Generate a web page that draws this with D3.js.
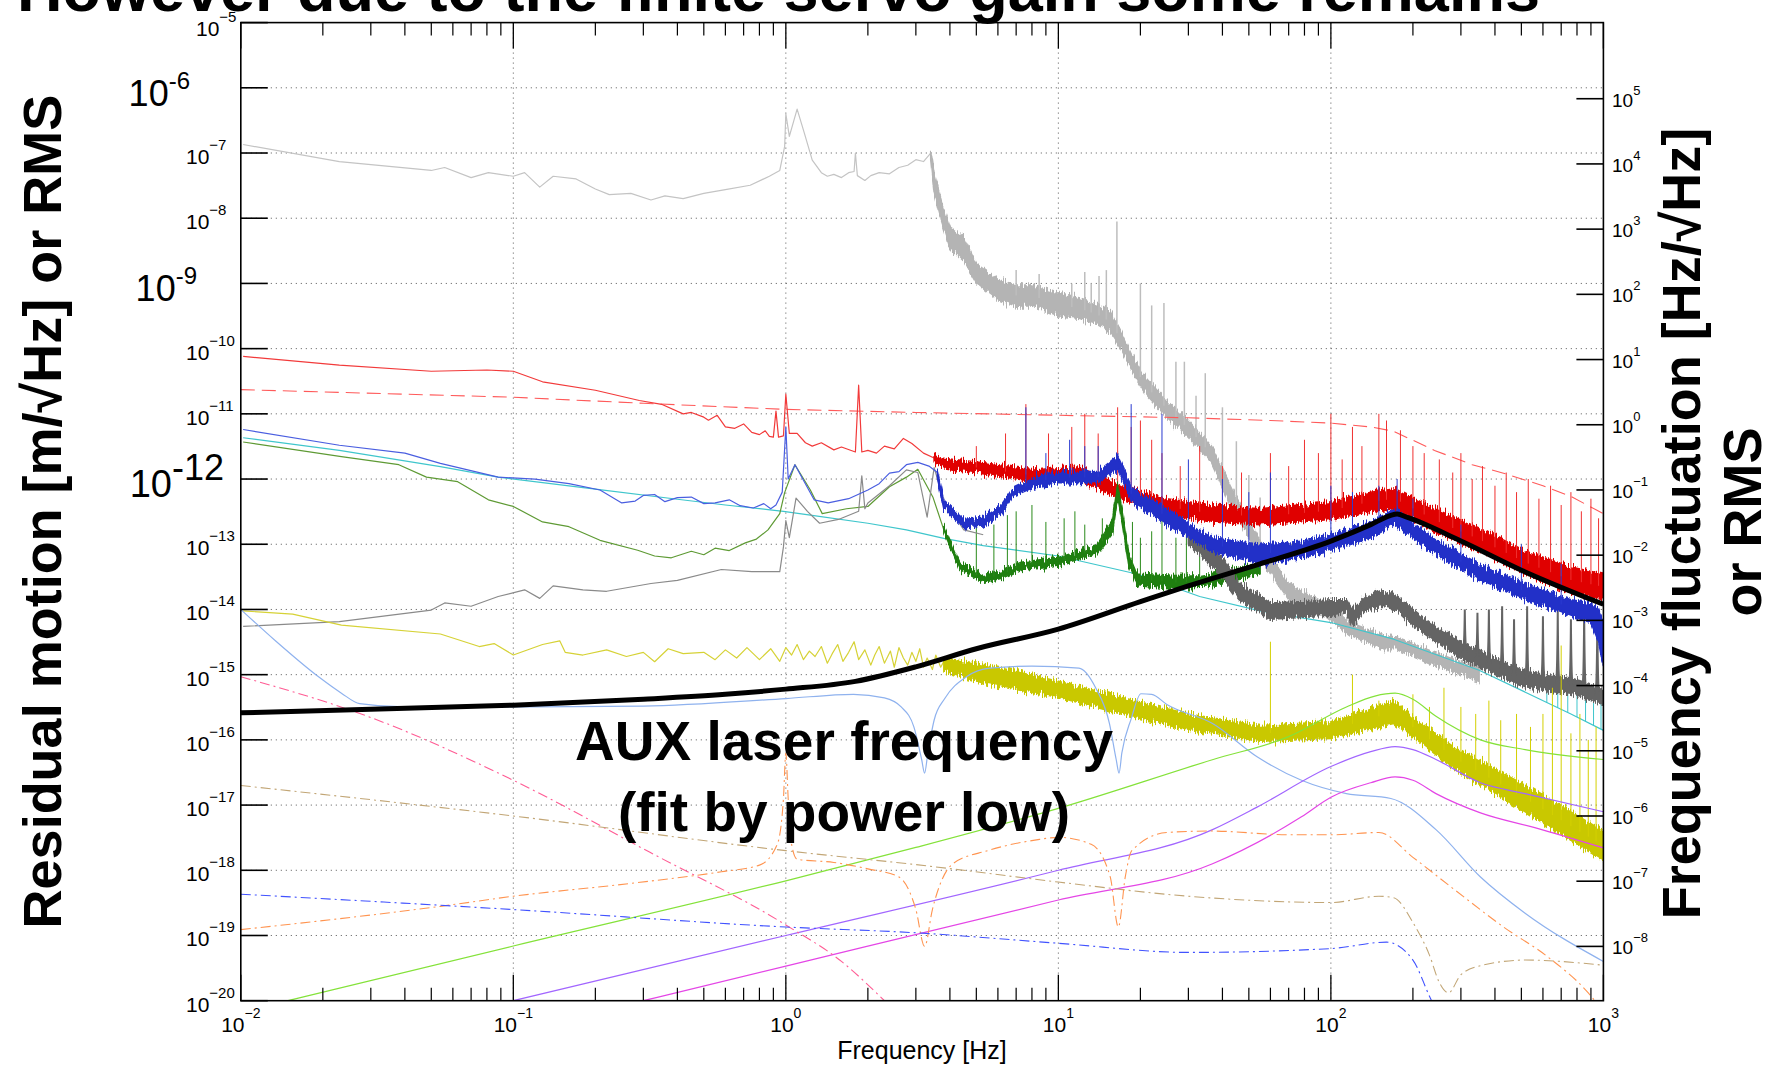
<!DOCTYPE html>
<html>
<head>
<meta charset="utf-8">
<script src="https://cdn.jsdelivr.net/npm/d3@7"></script>
<style>
  html, body { margin: 0; padding: 0; background: #fff; overflow: hidden; }
  svg { display: block; }
  text { font-family: "Liberation Sans", Arial, Helvetica, sans-serif; fill: #000; }
</style>
</head>
<body>
<svg id="chart" width="1773" height="1066"></svg>
<script>
// ---------------------------------------------------------------------------
// Residual motion spectra [m/rtHz] vs frequency [Hz]
// Thin traces: [frequency, amplitude]; noisy traces: [frequency, low, high]
// ---------------------------------------------------------------------------

// ground / seismic motion (light gray)
const lightGrayLine = [[0.0102,1.35e-7],[0.023,7.4e-8],[0.05,5.4e-8],[0.056,6.0e-8],[0.07,4.2e-8],[0.081,5.0e-8],[0.1,4.4e-8],[0.11,5.0e-8],[0.125,3.0e-8],[0.14,4.4e-8],[0.17,4.0e-8],[0.2,2.8e-8],[0.225,2.3e-8],[0.27,2.4e-8],[0.32,1.9e-8],[0.36,2.2e-8],[0.42,2.0e-8],[0.5,2.4e-8],[0.6,2.75e-8],[0.74,3.2e-8],[0.87,4.4e-8],[0.95,5.4e-8],[0.99,1.26e-7],[1.0,4.0e-7],[1.03,1.8e-7],[1.1,4.7e-7],[1.17,2.0e-7],[1.25,7.8e-8],[1.35,5.0e-8],[1.42,4.4e-8],[1.5,4.7e-8],[1.6,4.2e-8],[1.7,5.0e-8],[1.78,5.2e-8],[1.8,1.0e-7],[1.83,4.5e-8],[1.95,3.8e-8],[2.05,4.5e-8],[2.2,5.0e-8],[2.4,4.8e-8],[2.6,6.0e-8],[2.8,6.5e-8],[3.0,7.9e-8],[3.2,7.4e-8],[3.4,1.0e-7]];
const lightGrayBand = [[3.4,7.9e-8,1.12e-7],[3.5,2.5e-8,5.0e-8],[3.7,1.0e-8,2.0e-8],[4.0,3.5e-9,7.1e-9],[4.5,2.2e-9,5.0e-9],[5.0,1.0e-9,2.0e-9],[6.0,5.6e-10,1.15e-9],[7.0,4.5e-10,9.5e-10],[8.0,4.5e-10,9.5e-10],[10,3.2e-10,7.1e-10],[12,2.9e-10,5.8e-10],[14,2.3e-10,4.7e-10],[15.5,1.8e-10,3.7e-10],[17,1.0e-10,1.78e-10],[18.6,4.5e-11,7.9e-11],[21,2.0e-11,3.5e-11],[25,8.9e-12,1.58e-11],[30,4.5e-12,7.9e-12],[36.5,1.78e-12,3.2e-12],[44,3.2e-13,6.3e-13],[55,6.3e-14,1.12e-13],[70,1.41e-14,2.5e-14],[95,7.9e-15,1.26e-14],[118,4.0e-15,6.3e-15],[155,2.5e-15,4.0e-15],[175,2.5e-15,3.8e-15],[240,1.41e-15,2.2e-15],[350,7.9e-16,1.26e-15]];
const lightGraySpikes = [[7.0,1.6e-9],[8.5,1.4e-9],[11.2,1.0e-9],[12.5,1.5e-9],[13.2,1.0e-9],[14.1,1.3e-9],[15.0,1.6e-9],[16.4,8.9e-9],[20,1.0e-9],[22,4.6e-10],[24.4,5.0e-10],[27,6.3e-11],[29,6.3e-11],[32,1.9e-11],[34.6,4.2e-11],[40,1.26e-11],[45,3.8e-12],[50,1.15e-12],[55,5.2e-13]];

// residual (dark gray)
const darkGrayLine = [[0.0102,5.5e-15],[0.023,6.5e-15],[0.05,9.8e-15],[0.056,1.26e-14],[0.07,1.12e-14],[0.088,1.58e-14],[0.11,2.0e-14],[0.125,1.48e-14],[0.14,2.3e-14],[0.18,2.0e-14],[0.22,1.9e-14],[0.32,2.5e-14],[0.4,2.8e-14],[0.58,4.1e-14],[0.75,3.8e-14],[0.95,3.8e-14],[0.98,9.1e-14],[1.0,2.3e-13],[1.03,1.26e-13],[1.09,5.1e-13],[1.2,3.2e-13],[1.33,2.1e-13],[1.56,2.4e-13],[1.85,3.2e-13],[1.9,1.12e-12],[1.95,3.5e-13],[2.0,4.3e-13],[2.4,7.9e-13],[2.77,1.38e-12],[3.05,1.26e-12],[3.3,2.6e-13],[3.5,1.5e-12],[3.8,4.7e-13],[4.5,1.66e-13],[5.3,1.4e-13]];
const darkGrayBand = [[30,1.0e-13,1.58e-13],[40,3.2e-14,6.3e-14],[46,1.41e-14,2.5e-14],[60,7.1e-15,1.26e-14],[80,7.6e-15,1.32e-14],[100,7.9e-15,1.41e-14],[114,8.9e-15,1.41e-14],[120,5.6e-15,1.0e-14],[135,1.0e-14,1.58e-14],[155,1.12e-14,2.0e-14],[172,1.0e-14,1.66e-14],[200,5.6e-15,1.0e-14],[240,3.3e-15,5.6e-15],[300,1.78e-15,3.2e-15],[400,1.0e-15,1.78e-15],[517,6.3e-16,1.12e-15],[760,5.0e-16,8.9e-16],[1000,3.5e-16,6.3e-16]];
const darkGrayPeaks = [[310,1.0e-14],[345,8.9e-15],[380,1.0e-14],[425,1.12e-14],[470,7.1e-15],[525,1.12e-14],[600,7.9e-15],[680,1.0e-14],[760,7.1e-15],[850,1.0e-14],[950,7.9e-15]];

// red: solid and dashed
const redLine = [[0.0102,7.6e-11],[0.023,5.6e-11],[0.05,4.5e-11],[0.08,4.7e-11],[0.1,4.5e-11],[0.128,3.1e-11],[0.2,2.3e-11],[0.29,1.6e-11],[0.35,1.4e-11],[0.42,1.0e-11],[0.45,1.05e-11],[0.5,8.9e-12],[0.52,8.0e-12],[0.56,9.5e-12],[0.6,6.3e-12],[0.65,6.0e-12],[0.7,7.0e-12],[0.75,5.2e-12],[0.8,4.8e-12],[0.84,5.5e-12],[0.87,4.5e-12],[0.9,4.4e-12],[0.92,1.1e-11],[0.94,4.4e-12],[0.98,4.6e-12],[1.0,2.0e-11],[1.03,5.0e-12],[1.1,5.0e-12],[1.18,3.6e-12],[1.25,3.2e-12],[1.35,3.6e-12],[1.5,2.8e-12],[1.6,3.1e-12],[1.8,2.6e-12],[1.85,2.75e-11],[1.9,2.6e-12],[2.0,2.75e-12],[2.15,2.5e-12],[2.3,3.2e-12],[2.5,2.9e-12],[2.7,4.2e-12],[2.9,3.5e-12],[3.2,2.5e-12],[3.5,2.1e-12]];
const redBand = [[3.5,1.9e-12,2.4e-12],[3.7,1.51e-12,2.1e-12],[5.5,1.17e-12,1.74e-12],[8.2,9.1e-13,1.38e-12],[11.7,9.5e-13,1.58e-12],[17,5.0e-13,7.9e-13],[25,2.8e-13,5.0e-13],[36.5,2.2e-13,4.0e-13],[55,2.0e-13,3.5e-13],[100,2.4e-13,4.5e-13],[140,3.2e-13,6.3e-13],[172,3.5e-13,7.1e-13],[240,1.58e-13,3.5e-13],[350,7.9e-14,1.78e-13],[517,3.5e-14,7.9e-14],[760,1.78e-14,4.5e-14],[1000,1.41e-14,3.5e-14]];
const redSpikes = [[5.0,3.2e-12],[6.4,5.0e-12],[7.6,1.41e-11],[9.2,5.0e-12],[11.2,6.3e-12],[12.5,1.0e-11],[14,5.0e-12],[16.5,1.26e-11],[18.5,6.3e-12],[20,7.9e-12],[22,4.0e-12],[24,2.5e-12],[28,1.58e-12],[33,3.2e-12],[40,1.58e-12],[47,1.26e-12],[60,2.5e-12],[70,1.58e-12],[80,4.0e-12],[90,2.5e-12],[100,1.0e-11],[110,2.0e-12],[120,6.3e-12],[130,3.2e-12],[150,1.0e-11],[160,7.9e-12],[180,5.6e-12],[200,3.2e-12],[220,2.5e-12],[250,2.0e-12],[280,1.26e-12],[300,2.5e-12],[330,1.0e-12],[360,1.58e-12],[400,7.9e-13],[440,1.26e-12],[480,6.3e-13],[530,1.0e-12],[580,5.0e-13],[640,7.9e-13],[700,4.0e-13],[760,6.3e-13],[830,3.2e-13],[900,5.0e-13],[960,2.5e-13]];
const redDashed = [[0.01,2.35e-11],[0.1,1.8e-11],[0.3,1.45e-11],[1,1.17e-11],[3,1.05e-11],[10,9.5e-12],[30,8.7e-12],[60,7.9e-12],[100,7.2e-12],[140,6.3e-12],[170,5.4e-12],[240,2.75e-12],[330,1.66e-12],[430,1.23e-12],[600,7.9e-13],[760,5.4e-13],[1000,2.95e-13]];

// blue
const blueLine = [[0.0102,5.75e-12],[0.023,3.3e-12],[0.04,2.5e-12],[0.054,1.74e-12],[0.088,1.07e-12],[0.12,1.0e-12],[0.16,8.5e-13],[0.208,6.8e-13],[0.25,4.3e-13],[0.28,4.6e-13],[0.3,5.6e-13],[0.33,5.8e-13],[0.36,4.5e-13],[0.4,5.2e-13],[0.45,5.3e-13],[0.5,4.2e-13],[0.55,4.3e-13],[0.62,4.8e-13],[0.68,3.9e-13],[0.76,3.6e-13],[0.83,4.2e-13],[0.88,3.5e-13],[0.92,4.0e-13],[0.97,6.3e-13],[1.0,6.3e-12],[1.02,1.0e-12],[1.08,1.66e-12],[1.27,4.8e-13],[1.43,4.3e-13],[1.7,5.0e-13],[2.0,6.8e-13],[2.2,8.5e-13],[2.4,1.23e-12],[2.6,1.3e-12],[2.77,1.66e-12],[3.05,1.8e-12],[3.35,1.58e-12],[3.6,1.26e-12]];
const blueBand = [[3.6,1.0e-12,1.3e-12],[3.8,3.5e-13,4.6e-13],[4.5,1.8e-13,2.4e-13],[5.3,1.9e-13,2.6e-13],[6.2,3.0e-13,4.1e-13],[6.8,5.4e-13,7.2e-13],[8.2,7.6e-13,1.05e-12],[10,8.5e-13,1.3e-12],[11.7,8.5e-13,1.3e-12],[14,8.9e-13,1.3e-12],[16.5,1.41e-12,2.3e-12],[18.6,4.5e-13,7.1e-13],[25,2.0e-13,3.5e-13],[36.5,7.9e-14,1.26e-13],[55,5.0e-14,1.0e-13],[80,6.3e-14,1.12e-13],[100,7.9e-14,1.41e-13],[140,1.26e-13,2.2e-13],[172,2.0e-13,3.5e-13],[240,7.1e-14,1.2e-13],[350,2.8e-14,5.0e-14],[517,1.41e-14,2.5e-14],[760,7.9e-15,1.41e-14],[900,6.3e-15,1.26e-14],[960,3.2e-15,1.0e-14],[1000,1.26e-15,6.3e-15]];
const blueSpikes = [[7.6,1.26e-11],[9,2.5e-12],[11,4.0e-12],[12.5,3.2e-12],[14,3.2e-12],[18.5,1.41e-11],[24,1.0e-11],[30,2.0e-12],[40,1.0e-12],[50,6.3e-13],[60,1.26e-12],[100,7.9e-13],[120,6.3e-13],[150,7.9e-13],[175,1.0e-12],[200,5.0e-13],[300,2.0e-13],[500,1.0e-13],[700,5.0e-14]];

// cyan
const cyanLine = [[0.0102,4.3e-12],[0.023,2.75e-12],[0.054,1.55e-12],[0.088,1.07e-12],[0.2,7.0e-13],[0.4,4.9e-13],[0.6,4.0e-13],[0.86,3.4e-13],[0.98,3.2e-13],[1.23,2.8e-13],[2.0,2.1e-13],[2.77,1.66e-13],[3.8,1.23e-13],[5.3,9.5e-14],[10,6.6e-14],[19.4,3.5e-14],[33,1.58e-14],[55,9.5e-15],[100,6.3e-15],[170,3.5e-15],[350,1.17e-15],[760,2.5e-16],[1000,1.4e-16]];
const cyanSpikes = [[620,6.3e-16],[680,7.9e-16],[740,5.6e-16],[800,6.3e-16],[860,5.0e-16],[920,6.3e-16],[980,4.0e-16]];

// green
const greenLine = [[0.0102,3.7e-12],[0.0234,2.2e-12],[0.038,1.66e-12],[0.048,1.07e-12],[0.0625,9.1e-13],[0.081,4.8e-13],[0.1,3.8e-13],[0.128,2.2e-13],[0.16,1.86e-13],[0.208,1.15e-13],[0.286,8.1e-14],[0.33,6.6e-14],[0.38,6.2e-14],[0.45,7.8e-14],[0.5,6.9e-14],[0.55,8.7e-14],[0.62,8.0e-14],[0.71,1.05e-13],[0.78,1.2e-13],[0.86,1.66e-13],[0.95,2.95e-13],[0.99,6.2e-13],[1.08,1.66e-12],[1.23,6.8e-13],[1.36,2.95e-13],[1.67,3.5e-13],[2.0,3.8e-13],[2.4,7.6e-13],[2.77,1.07e-12],[3.05,1.41e-12],[3.47,5.2e-13],[3.8,1.66e-13]];
const greenBand = [[3.8,1.5e-13,1.9e-13],[4.35,4.1e-14,5.3e-14],[5.3,2.6e-14,3.3e-14],[6.2,3.0e-14,3.9e-14],[7.3,4.1e-14,5.3e-14],[10.1,4.8e-14,6.3e-14],[13.8,7.2e-14,9.5e-14],[15.8,1.5e-13,2.3e-13],[16.5,5.0e-13,8.5e-13],[17.2,2.0e-13,3.0e-13],[18.1,4.8e-14,7.1e-14],[19.4,2.4e-14,3.5e-14],[26.8,2.1e-14,3.2e-14],[33,2.2e-14,3.3e-14],[45,2.8e-14,4.2e-14],[55,3.5e-14,5.0e-14]];
const greenSpikes = [[5.0,2.5e-13],[5.8,2.0e-13],[6.5,2.8e-13],[7.0,3.2e-13],[8.0,4.0e-13],[9.0,2.2e-13],[10.5,2.5e-13],[11.5,3.2e-13],[12.5,2.0e-13],[14.5,2.5e-13],[18.7,2.2e-13],[20,1.26e-13],[22,1.58e-13],[24,2.5e-13],[27,1.26e-13],[29.5,2.0e-13],[33,7.9e-14],[38,1.0e-13]];

// yellow
const yellowLine = [[0.0102,9.5e-15],[0.0155,8.5e-15],[0.0234,5.75e-15],[0.054,4.2e-15],[0.075,2.7e-15],[0.085,3.0e-15],[0.1,2.0e-15],[0.128,2.9e-15],[0.148,3.3e-15],[0.155,2.2e-15],[0.18,2.0e-15],[0.22,2.4e-15],[0.26,1.9e-15],[0.3,2.2e-15],[0.33,1.58e-15],[0.37,2.5e-15],[0.42,2.1e-15],[0.5,2.2e-15],[0.55,1.7e-15],[0.6,2.4e-15],[0.66,1.8e-15],[0.72,2.6e-15],[0.8,1.7e-15],[0.88,2.5e-15],[0.95,1.6e-15],[1.0,2.6e-15],[1.05,2.0e-15],[1.1,2.9e-15],[1.16,1.7e-15],[1.22,2.3e-15],[1.28,1.9e-15],[1.35,2.7e-15],[1.42,1.5e-15],[1.48,2.1e-15],[1.55,2.9e-15],[1.62,1.6e-15],[1.7,2.2e-15],[1.78,3.2e-15],[1.85,1.7e-15],[1.95,2.4e-15],[2.05,1.4e-15],[2.12,2.0e-15],[2.2,2.7e-15],[2.3,1.5e-15],[2.42,2.3e-15],[2.5,1.3e-15],[2.6,2.6e-15],[2.7,1.8e-15],[2.8,1.4e-15],[2.9,2.2e-15],[3.0,1.6e-15],[3.1,2.5e-15],[3.2,1.3e-15],[3.3,1.8e-15],[3.45,1.2e-15],[3.55,2.0e-15],[3.7,1.3e-15],[3.8,1.6e-15]];
const yellowBand = [[3.8,1.1e-15,1.8e-15],[5.5,7.1e-16,1.41e-15],[10,4.5e-16,7.9e-16],[17,2.5e-16,4.5e-16],[30,1.41e-16,2.5e-16],[55,9.5e-17,1.66e-16],[100,1.05e-16,1.9e-16],[170,1.78e-16,4.0e-16],[200,1.12e-16,2.2e-16],[285,3.5e-17,7.9e-17],[517,7.9e-18,2.0e-17],[1000,1.41e-18,4.0e-18]];
const yellowSpikes = [[60,3.2e-15],[120,1.0e-15],[150,4.0e-16],[200,5.0e-16],[230,3.2e-16],[260,6.3e-16],[300,3.2e-16],[340,2.5e-16],[380,4.0e-16],[420,2.0e-16],[480,2.5e-16],[540,1.58e-16],[600,2.5e-16],[650,6.3e-16],[700,2.8e-15],[760,1.26e-16],[820,2.5e-16],[880,1.0e-16],[940,1.58e-16]];

// AUX laser frequency noise (power-law fit)
const auxFit = [[0.01,2.6e-16],[0.03,2.95e-16],[0.1,3.4e-16],[0.3,4.2e-16],[0.6,5.0e-16],[1.0,6.0e-16],[1.8,7.9e-16],[3.0,1.32e-15],[5.0,2.5e-15],[10,5.0e-15],[20,1.32e-14],[30,2.3e-14],[55,5.0e-14],[100,1.12e-13],[140,2.0e-13],[165,2.75e-13],[175,2.9e-13],[190,2.6e-13],[300,1.12e-13],[500,4.0e-14],[1000,1.2e-14]];

// noise models (smooth)
const lightBlue = [[0.01,1.0e-14],[0.0133,3.4e-15],[0.0194,9.1e-16],[0.0234,5.2e-16],[0.0273,3.6e-16],[0.04,3.2e-16],[0.1,3.2e-16],[0.3,3.3e-16],[1.0,4.3e-16],[1.77,5.0e-16],[2.3,4.4e-16],[2.65,3.2e-16],[2.95,1.58e-16],[3.15,5.0e-17],[3.23,3.1e-17],[3.32,6.3e-17],[3.5,2.0e-16],[3.83,4.3e-16],[4.6,9.3e-16],[5.6,1.26e-15],[8,1.35e-15],[11.9,1.26e-15],[13.7,6.3e-16],[15.4,1.78e-16],[16.3,5.0e-17],[16.7,3.1e-17],[17.1,6.3e-17],[18.5,2.1e-16],[20.1,5.1e-16],[22,5.0e-16],[25,3.5e-16],[36.8,1.78e-16],[53.6,5.5e-17],[78,2.4e-17],[114,1.5e-17],[166,1.26e-17],[243,4.2e-18],[354,7.9e-19],[516,2.2e-19],[1000,4.0e-20]];
const lightGreen = [[0.0149,1.0e-20],[0.1,6.9e-20],[1,6.9e-19],[3,2.24e-18],[10,8.9e-18],[37,5.0e-17],[70,1.12e-16],[114,3.2e-16],[145,4.7e-16],[172,5.2e-16],[200,4.2e-16],[243,2.3e-16],[354,1.0e-16],[516,7.1e-17],[1000,5.0e-17]];
const purple = [[0.1,1.0e-20],[1,1.0e-19],[10,1.0e-18],[36.8,4.2e-18],[53.6,9.3e-18],[100,3.9e-17],[140,6.6e-17],[172,7.9e-17],[200,7.1e-17],[243,5.0e-17],[354,2.2e-17],[516,1.5e-17],[1000,7.9e-18]];
const magenta = [[0.3,1.0e-20],[1,3.4e-20],[10,3.5e-19],[36.8,1.26e-18],[78,6.6e-18],[100,1.32e-17],[140,2.2e-17],[172,2.7e-17],[200,2.4e-17],[243,1.5e-17],[354,7.6e-18],[560,4.5e-18],[1000,2.2e-18]];
const pinkDashDot = [[0.01,9.3e-16],[0.03,2.2e-16],[0.1,2.4e-17],[0.316,1.9e-18],[1,1.45e-19],[1.6,4.0e-20],[2.3,1.0e-20]];
const tanDashDot = [[0.01,2.0e-17],[0.1,6.8e-18],[1,2.0e-18],[3.4,1.15e-18],[10,6.6e-19],[30,4.0e-19],[100,3.2e-19],[150,4.0e-19],[170,3.8e-19],[200,1.58e-19],[230,5.0e-20],[250,1.9e-20],[270,1.32e-20],[300,2.5e-20],[360,3.5e-20],[517,4.2e-20],[1000,3.5e-20]];
const orangeDashDot = [[0.01,1.23e-19],[0.054,2.8e-19],[0.1,4.0e-19],[0.27,6.3e-19],[0.58,9.5e-19],[0.8,1.2e-18],[0.93,2.5e-18],[0.98,1.26e-17],[1.0,6.3e-17],[1.02,1.26e-17],[1.05,2.5e-18],[1.1,1.48e-18],[1.5,1.32e-18],[2.0,1.05e-18],[2.6,7.9e-19],[3.0,2.5e-19],[3.23,6.8e-20],[3.45,2.5e-19],[4.1,1.26e-18],[5.5,2.0e-18],[8.2,2.9e-18],[10,3.2e-18],[13.2,2.5e-18],[15.5,7.9e-19],[16.6,1.35e-19],[17.6,7.9e-19],[18.6,2.0e-18],[25,3.8e-18],[36.5,4.0e-18],[70,3.5e-18],[100,3.5e-18],[150,3.8e-18],[200,1.58e-18],[285,5.0e-19],[430,1.35e-19],[625,4.7e-20],[880,1.32e-20],[950,9e-21]];
const blueDashDot = [[0.01,4.3e-19],[0.1,2.5e-19],[1,1.35e-19],[3,1.1e-19],[10,7.6e-20],[30,5.5e-20],[100,6.3e-20],[160,7.9e-20],[200,4.2e-20],[230,1.17e-20],[240,8e-21]];

// axes
const xTicks = [1e-2, 1e-1, 1, 10, 100, 1000];
const xTickExp = ["−2", "−1", "0", "1", "2", "3"];
const leftTicks = [1e-5,1e-6,1e-7,1e-8,1e-9,1e-10,1e-11,1e-12,1e-13,1e-14,1e-15,1e-16,1e-17,1e-18,1e-19,1e-20];
const leftTickExp = ["−5","−6","−7","−8","−9","−10","−11","−12","−13","−14","−15","−16","−17","−18","−19","−20"];
const leftBigLabels = [[1e-6, "-6"], [1e-9, "-9"], [1e-12, "-12"]];
const rightTicks = [1e5,1e4,1e3,1e2,1e1,1e0,1e-1,1e-2,1e-3,1e-4,1e-5,1e-6,1e-7,1e-8];
const rightTickExp = ["5","4","3","2","1","0","−1","−2","−3","−4","−5","−6","−7","−8"];
const HZ_PER_M = 1.47e11;   // conversion of displacement to laser frequency

// ---------------------------------------------------------------------------
const W = 1773, H = 1066;
const box = { left: 240.8, right: 1603.4, top: 22.6, bottom: 1000.7 };

const x = d3.scaleLog().domain([1e-2, 1e3]).range([box.left, box.right]);
const y = d3.scaleLog().domain([1e-20, 1e-5]).range([box.bottom, box.top]);
const yR = d3.scaleLog().domain(y.domain().map(v => v * HZ_PER_M)).range(y.range());

const svg = d3.select("#chart");
const defs = svg.append("defs");
defs.append("clipPath").attr("id", "plotClip")
  .append("rect").attr("x", box.left).attr("y", box.top)
  .attr("width", box.right - box.left).attr("height", box.bottom - box.top);

// ragged edge for the broadband noisy traces
const filt = defs.append("filter").attr("id", "ragged")
  .attr("filterUnits", "userSpaceOnUse").attr("x", 0).attr("y", 0)
  .attr("width", W).attr("height", H)
  .attr("color-interpolation-filters", "sRGB");
filt.append("feTurbulence").attr("type", "fractalNoise")
  .attr("baseFrequency", "0.9 0.05").attr("numOctaves", 2).attr("seed", 7).attr("result", "n");
filt.append("feColorMatrix").attr("in", "n").attr("type", "matrix")
  .attr("values", "0 0 0 0 0.5  0 1 0 0 0  0 0 1 0 0  0 0 0 0 1").attr("result", "m");
filt.append("feDisplacementMap").attr("in", "SourceGraphic").attr("in2", "m")
  .attr("scale", 14).attr("xChannelSelector", "R").attr("yChannelSelector", "G");

// grid
const grid = svg.append("g");
xTicks.slice(1, -1).forEach(f => {
  grid.append("line").attr("x1", x(f)).attr("x2", x(f))
    .attr("y1", box.top).attr("y2", box.bottom)
    .attr("stroke", "#555").attr("stroke-width", 1).attr("stroke-dasharray", "1,4");
});
leftTicks.slice(1, -1).forEach(v => {
  grid.append("line").attr("x1", box.left).attr("x2", box.right)
    .attr("y1", y(v)).attr("y2", y(v))
    .attr("stroke", "#555").attr("stroke-width", 1).attr("stroke-dasharray", "1,4");
});

const plot = svg.append("g").attr("clip-path", "url(#plotClip)");

const lineGen = d3.line().x(d => x(d[0])).y(d => y(d[1]));
const smoothGen = d3.line().x(d => x(d[0])).y(d => y(d[1])).curve(d3.curveMonotoneX);
const bandGen = d3.area().x(d => x(d[0])).y0(d => y(d[1])).y1(d => y(d[2]));

// log-log interpolation of a trace (band centre for [f, lo, hi])
function level(series, f) {
  const c = series.map(d => [Math.log10(d[0]), d.length > 2 ? (Math.log10(d[1]) + Math.log10(d[2])) / 2 : Math.log10(d[1])]);
  const lf = Math.log10(f);
  if (lf <= c[0][0]) return Math.pow(10, c[0][1]);
  for (let i = 1; i < c.length; i++) {
    if (lf <= c[i][0]) {
      const t = (lf - c[i - 1][0]) / (c[i][0] - c[i - 1][0]);
      return Math.pow(10, c[i - 1][1] + t * (c[i][1] - c[i - 1][1]));
    }
  }
  return Math.pow(10, c[c.length - 1][1]);
}

function drawLine(data, color, width, dash, gen) {
  plot.append("path").datum(data).attr("d", gen || lineGen)
    .attr("fill", "none").attr("stroke", color).attr("stroke-width", width)
    .attr("stroke-linejoin", "round")
    .attr("stroke-dasharray", dash || null);
}
function drawBand(data, color) {
  const g = plot.append("g").attr("filter", "url(#ragged)");
  g.append("path").datum(data).attr("d", bandGen)
    .attr("fill", color).attr("stroke", color).attr("stroke-width", 1.5);
}
function drawSpikes(spikes, base, color, width) {
  spikes.forEach(s => {
    plot.append("line")
      .attr("x1", x(s[0])).attr("x2", x(s[0]))
      .attr("y1", y(level(base, s[0]))).attr("y2", y(s[1]))
      .attr("stroke", color).attr("stroke-width", width);
  });
}
function drawPeaks(peaks, base, color) {
  peaks.forEach(p => {
    const b = level(base, p[0]);
    plot.append("path")
      .attr("d", `M${x(p[0] * 0.975)},${y(b)} Q${x(p[0] * 0.996)},${y(b)} ${x(p[0])},${y(p[1])} Q${x(p[0] * 1.004)},${y(b)} ${x(p[0] * 1.025)},${y(b)} Z`)
      .attr("fill", color).attr("stroke", color).attr("stroke-width", 2);
  });
}

// traces, back to front
drawLine(lightGrayLine, "#c4c4c4", 1.2);
drawBand(lightGrayBand, "#b4b4b4");
drawSpikes(lightGraySpikes, lightGrayBand, "#bdbdbd", 1.5);

drawLine(redDashed, "#ff5a5a", 1.1, "14,7");

drawLine(redLine, "#f23a3a", 1.2);
drawBand(redBand, "#e00000");
drawSpikes(redSpikes, redBand, "#f03030", 1);

drawLine(cyanLine, "#3fc6cc", 1.2);
drawSpikes(cyanSpikes, cyanLine, "#3fc6cc", 1);

drawLine(greenLine, "#5e9a34", 1.2);
drawBand(greenBand, "#1f7f10");
drawSpikes(greenSpikes, greenBand, "#2a8a1a", 1);

drawLine(darkGrayLine, "#8a8a8a", 1.2);
drawBand(darkGrayBand, "#646464");
drawPeaks(darkGrayPeaks, darkGrayBand, "#646464");

drawLine(blueLine, "#4a5ee0", 1.2);
drawBand(blueBand, "#2230c8");
drawSpikes(blueSpikes, blueBand, "#2a3ad0", 1);

drawLine(yellowLine, "#d6d236", 1.2);
drawBand(yellowBand, "#c9c800");
drawSpikes(yellowSpikes, yellowBand, "#d4d000", 1);

drawLine(lightBlue, "#8fb2ee", 1.2, null, smoothGen);
drawLine(lightGreen, "#84e23a", 1.2, null, smoothGen);
drawLine(purple, "#a266ff", 1.2, null, smoothGen);
drawLine(magenta, "#e446e6", 1.2, null, smoothGen);

drawLine(pinkDashDot, "#ff5c94", 1.1, "10,4,2,4", smoothGen);
drawLine(tanDashDot, "#c2a676", 1.1, "10,4,2,4", smoothGen);
drawLine(orangeDashDot, "#ff9450", 1.1, "10,4,2,4", smoothGen);
drawLine(blueDashDot, "#4152ff", 1.1, "10,4,2,4", smoothGen);

drawLine(auxFit, "#000", 5, null, smoothGen);

// frame and ticks
const axes = svg.append("g").attr("stroke", "#000").attr("fill", "none");
axes.append("rect").attr("x", box.left).attr("y", box.top)
  .attr("width", box.right - box.left).attr("height", box.bottom - box.top)
  .attr("stroke-width", 1.6);

const minorX = [];
xTicks.slice(0, -1).forEach(d => { for (let k = 2; k <= 9; k++) minorX.push(d * k); });
xTicks.forEach(f => {
  axes.append("line").attr("x1", x(f)).attr("x2", x(f)).attr("y1", box.bottom).attr("y2", box.bottom - 26).attr("stroke-width", 1.3);
  axes.append("line").attr("x1", x(f)).attr("x2", x(f)).attr("y1", box.top).attr("y2", box.top + 26).attr("stroke-width", 1.3);
});
minorX.forEach(f => {
  axes.append("line").attr("x1", x(f)).attr("x2", x(f)).attr("y1", box.bottom).attr("y2", box.bottom - 13).attr("stroke-width", 1.2);
  axes.append("line").attr("x1", x(f)).attr("x2", x(f)).attr("y1", box.top).attr("y2", box.top + 13).attr("stroke-width", 1.2);
});
leftTicks.forEach(v => {
  axes.append("line").attr("x1", box.left).attr("x2", box.left + 27).attr("y1", y(v)).attr("y2", y(v)).attr("stroke-width", 1.6);
});
rightTicks.forEach(v => {
  axes.append("line").attr("x1", box.right).attr("x2", box.right - 27).attr("y1", yR(v)).attr("y2", yR(v)).attr("stroke-width", 1.6);
});

// tick labels
const labels = svg.append("g");
function powLabel(px, py, exp, anchor, base, sup, rise) {
  const t = labels.append("text").attr("x", px).attr("y", py).attr("text-anchor", anchor);
  t.append("tspan").style("font-size", base + "px").text("10");
  t.append("tspan").attr("dy", -rise).style("font-size", sup + "px").text(exp);
  return t;
}
xTicks.forEach((f, i) => powLabel(x(f), 1032, xTickExp[i], "middle", 21, 14, 14));
const bigSet = new Set(leftBigLabels.map(d => d[0]));
leftTicks.forEach((v, i) => {
  if (bigSet.has(v)) return;
  const top = v === 1e-5;
  powLabel(top ? 196 : 186, y(v) + (top ? 13 : 11), leftTickExp[i], "start", 21, 15, 14);
});
leftBigLabels.forEach(([v, exp]) => {
  const big = v === 1e-12;
  const right = v === 1e-6 ? 190 : v === 1e-9 ? 197 : 224;
  powLabel(right, y(v) + 18, exp, "end", big ? 38 : 36, big ? 36 : 24, 17);
});
rightTicks.forEach((v, i) => powLabel(1612, yR(v) + 8, rightTickExp[i], "start", 19, 13, 12));

// titles
svg.append("text").attr("x", 17).attr("y", 11)
  .style("font-size", "63px").style("font-weight", "bold")
  .text("However due to the finite servo gain some remains");

svg.append("text").attr("x", 922).attr("y", 1059).attr("text-anchor", "middle")
  .style("font-size", "25px").text("Frequency [Hz]");

svg.append("text").attr("transform", "translate(61,511.6) rotate(-90)")
  .attr("text-anchor", "middle").style("font-size", "54px").style("font-weight", "bold")
  .text("Residual motion [m/√Hz] or RMS");

svg.append("text").attr("transform", "translate(1700,523.5) rotate(-90)")
  .attr("text-anchor", "middle").style("font-size", "54px").style("font-weight", "bold")
  .text("Frequency fluctuation [Hz/√Hz]");
svg.append("text").attr("transform", "translate(1761,522) rotate(-90)")
  .attr("text-anchor", "middle").style("font-size", "54px").style("font-weight", "bold")
  .text("or RMS");

svg.append("text").attr("x", 844).attr("y", 760).attr("text-anchor", "middle")
  .style("font-size", "55px").style("font-weight", "bold").text("AUX laser frequency");
svg.append("text").attr("x", 844).attr("y", 831).attr("text-anchor", "middle")
  .style("font-size", "55px").style("font-weight", "bold").text("(fit by power low)");
</script>
</body>
</html>
